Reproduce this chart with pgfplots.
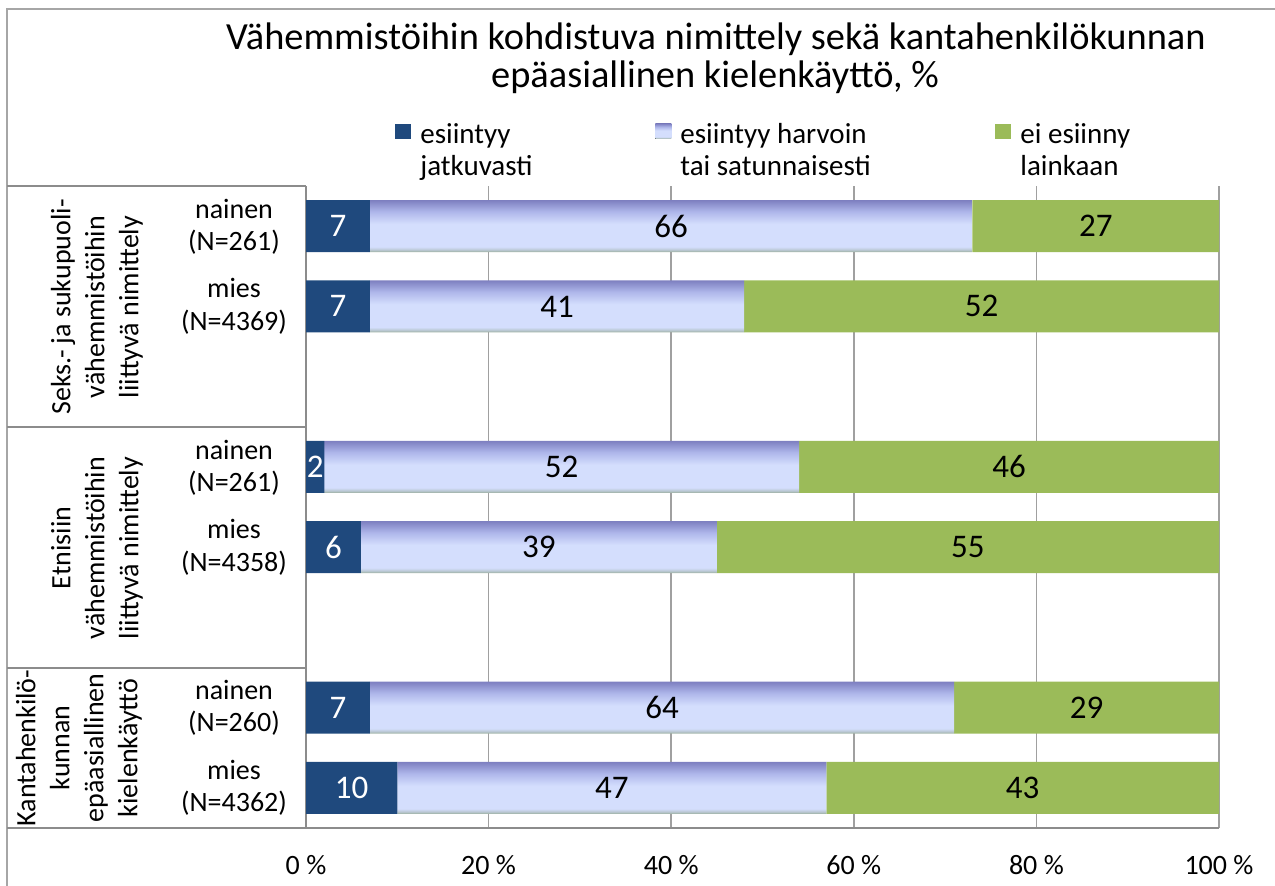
\documentclass[border=0pt]{standalone}
\usepackage{pgfplots}
\pgfplotsset{compat=1.18}
\usepackage{fontspec}
\setmainfont{Carlito}
\definecolor{cA}{HTML}{1F497D}
\definecolor{cC}{HTML}{9BBB59}
\definecolor{shG}{HTML}{9AAE9C}
\definecolor{shGb}{HTML}{B8C6D0}
\definecolor{shL}{HTML}{D4DEFD}
\definecolor{shM}{HTML}{AEB6EA}
\definecolor{shT}{HTML}{7D7FC0}
\definecolor{lineg}{HTML}{8C8C8C}
\definecolor{gridg}{HTML}{A0A0A0}
\definecolor{frameg}{HTML}{A6A6A6}
% one band per bar (bars at slots 1,2,4,5,7,8 of the middle series)
\pgfdeclareverticalshading{midbar}{100bp}{color(0bp)=(shG);
 color(25.000bp)=(shG); color(25.169bp)=(shGb); color(25.423bp)=(shL); color(27.287bp)=(shL); color(28.304bp)=(shM); color(29.236bp)=(shT);
 color(31.538bp)=(shG); color(31.707bp)=(shGb); color(31.961bp)=(shL); color(33.825bp)=(shL); color(34.842bp)=(shM); color(35.774bp)=(shT);
 color(44.613bp)=(shG); color(44.782bp)=(shGb); color(45.036bp)=(shL); color(46.900bp)=(shL); color(47.917bp)=(shM); color(48.849bp)=(shT);
 color(51.151bp)=(shG); color(51.320bp)=(shGb); color(51.574bp)=(shL); color(53.438bp)=(shL); color(54.455bp)=(shM); color(55.387bp)=(shT);
 color(64.226bp)=(shG); color(64.395bp)=(shGb); color(64.649bp)=(shL); color(66.513bp)=(shL); color(67.530bp)=(shM); color(68.462bp)=(shT);
 color(70.764bp)=(shG); color(70.933bp)=(shGb); color(71.187bp)=(shL); color(73.051bp)=(shL); color(74.068bp)=(shM); color(75.000bp)=(shT);
 color(100bp)=(shT)}
\pgfdeclareverticalshading{midbarone}{100bp}{color(0bp)=(shG); color(25bp)=(shG); color(27bp)=(shGb); color(30bp)=(shL); color(52bp)=(shL); color(64bp)=(shM); color(75bp)=(shT); color(100bp)=(shT)}
\pgfplotsset{sqlegend/.style={legend image code/.code={\fill[##1] (0pt,2.5pt) rectangle (8pt,10pt);}},
  sqlegendshade/.style={legend image code/.code={\fill[##1, shading=midbarone] (0pt,2.5pt) rectangle (8pt,10pt);}}}
\begin{document}
\begin{tikzpicture}
\begin{scope}[x=0.5pt,y=-0.5pt]
\useasboundingbox (0,0) rectangle (1275,886);
\draw[frameg, line width=1pt] (7,900) -- (7,9) -- (1290,9);
% table lines
\draw[lineg, line width=0.8pt] (7,186) -- (306,186);
\draw[lineg, line width=0.8pt] (7,427) -- (306,427);
\draw[lineg, line width=0.8pt] (7,668) -- (306,668);
\draw[lineg, line width=0.8pt] (7,828) -- (306,828);
% title
\node[anchor=base, inner sep=0pt, font=\fontsize{19.2}{20}\selectfont] at (716,50) {Vähemmistöihin kohdistuva nimittely sekä kantahenkilökunnan};
\node[anchor=base, inner sep=0pt, font=\fontsize{19.2}{20}\selectfont] at (715,88) {epäasiallinen kielenkäyttö, \%};
% group labels
\node[rotate=90, align=center, inner sep=0pt, font=\fontsize{14}{17}\selectfont] at (97,307) {Seks.- ja sukupuoli-\\vähemmistöihin\\liittyvä nimittely};
\node[rotate=90, align=center, inner sep=0pt, font=\fontsize{14}{17}\selectfont] at (97,548) {Etnisiin\\vähemmistöihin\\liittyvä nimittely};
\node[rotate=90, align=center, inner sep=0pt, font=\fontsize{14}{17}\selectfont] at (79,748) {Kantahenkilö-\\kunnan\\epäasiallinen\\kielenkäyttö};
% sub labels
\begin{scope}[every node/.style={anchor=base, inner sep=0pt, font=\fontsize{14}{16}\selectfont}]
\node at (234,219) {nainen};
\node at (234,251) {(N=261)};
\node at (234,298) {mies};
\node at (234,331) {(N=4369)};
\node at (234,460) {nainen};
\node at (234,492) {(N=261)};
\node at (234,539) {mies};
\node at (234,572) {(N=4358)};
\node at (234,700) {nainen};
\node at (234,732) {(N=260)};
\node at (234,780) {mies};
\node at (234,812) {(N=4362)};
\end{scope}
\end{scope}
\begin{axis}[
  at={(153pt,-414pt)}, anchor=south west,
  scale only axis, width=456.5pt, height=321pt,
  xbar stacked, bar width=26pt,
  xmin=0, xmax=100, ymin=0.5, ymax=8.5, y dir=reverse,
  axis x line*=bottom, axis y line*=left,
  axis line style={draw=lineg, line width=1pt},
  xtick={0,20,40,60,80,100},
  xticklabels={0 \%,20 \%,40 \%,60 \%,80 \%,100 \%},
  xticklabel style={font=\fontsize{14}{16}\selectfont, yshift=-10pt},
  major tick length=0pt,
  ytick=\empty,
  xmajorgrids, grid style={draw=gridg, line width=0.75pt},
  legend columns=3,
  legend style={at={(0.0975,1.098)}, anchor=north west, draw=none, fill=none, inner sep=0pt,
    nodes={inner sep=0pt, text depth=0pt}, cells={anchor=base west},
    font=\fontsize{14.5}{16}\selectfont,
    /tikz/every odd column/.append style={column sep=4.5pt}},
  clip=false,
]
\addplot[fill=cA, draw=none, sqlegend]
  coordinates {(7,1) (7,2) (2,4) (6,5) (7,7) (10,8)};
\addlegendentry{\parbox[t]{117.5pt}{esiintyy\\jatkuvasti}}
\addplot[shade, shading=midbar, draw=none, sqlegendshade]
  coordinates {(66,1) (41,2) (52,4) (39,5) (64,7) (47,8)};
\addlegendentry{\parbox[t]{157.5pt}{esiintyy harvoin\\tai satunnaisesti}}
\addplot[fill=cC, draw=none, sqlegend]
  coordinates {(27,1) (52,2) (46,4) (55,5) (29,7) (43,8)};
\addlegendentry{\parbox[t]{60pt}{ei esiinny\\lainkaan}}
\end{axis}
\begin{axis}[
  at={(153pt,-414pt)}, anchor=south west,
  scale only axis, width=456.5pt, height=321pt,
  xmin=0, xmax=100, ymin=0.5, ymax=8.5, y dir=reverse,
  hide axis, clip=false,
  nodes near coords, point meta=explicit symbolic,
  every node near coord/.append style={anchor=center, inner sep=0pt, font=\fontsize{16.5}{16.5}\selectfont},
]
\addplot[only marks, mark=none, every node near coord/.append style={text=white}] table[meta=l] {
x y l
3.5 1 7
3.5 2 7
1 4 2
3 5 6
3.5 7 7
5 8 10
};
\addplot[only marks, mark=none, every node near coord/.append style={text=black}] table[meta=l] {
x y l
40 1 66
86.5 1 27
27.5 2 41
74 2 52
28 4 52
77 4 46
25.5 5 39
72.5 5 55
39 7 64
85.5 7 29
33.5 8 47
78.5 8 43
};
\end{axis}
\end{tikzpicture}
\end{document}
